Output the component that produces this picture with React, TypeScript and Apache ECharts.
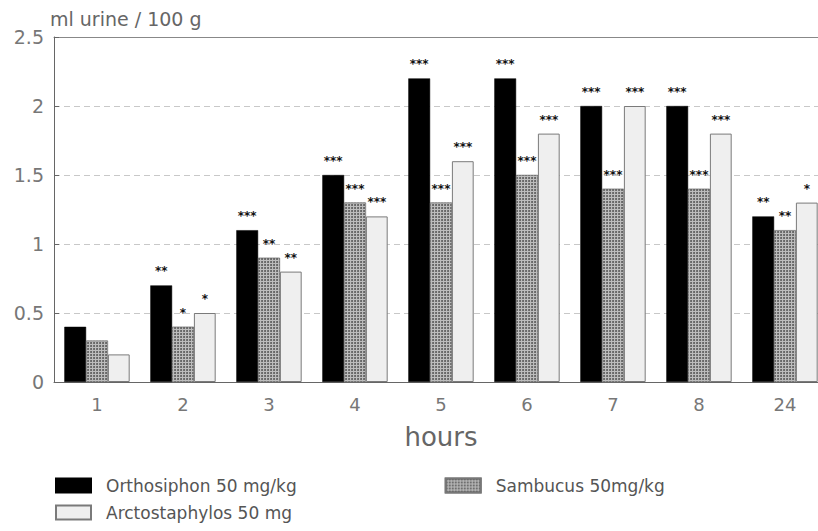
import React, { useEffect, useRef } from "react";
import * as echarts from "echarts";

const categories = ["1", "2", "3", "4", "5", "6", "7", "8", "24"];
const orthosiphon = [0.4, 0.7, 1.1, 1.5, 2.2, 2.2, 2.0, 2.0, 1.2];
const sambucus = [0.3, 0.4, 0.9, 1.3, 1.3, 1.5, 1.4, 1.4, 1.1];
const arctostaphylos = [0.2, 0.5, 0.8, 1.2, 1.6, 1.8, 2.0, 1.8, 1.3];
const orthoStars = ["", "**", "***", "***", "***", "***", "***", "***", "**"];
const sambStars = ["", "*", "**", "***", "***", "***", "***", "***", "**"];
const arctoStars = ["", "*", "**", "***", "***", "***", "***", "***", "*"];
const seriesNames = ["Orthosiphon 50 mg/kg", "Sambucus 50mg/kg", "Arctostaphylos 50 mg"];

const FONT = "DejaVu Sans";

function withStars(values: number[], stars: string[]) {
  return values.map((v, i) => ({ value: v, label: { formatter: stars[i] } }));
}

export default function App() {
  const ref = useRef<HTMLDivElement>(null);
  useEffect(() => {
    if (!ref.current) return;
    const chart = echarts.init(ref.current, undefined, { renderer: "svg" });
    const starLabel = {
      show: true,
      position: "top",
      distance: 8,
      fontSize: 12,
      fontWeight: "bold",
      color: "#111",
      textBorderWidth: 0,
      fontFamily: FONT,
    };
    const legendText = { fontFamily: FONT, fontSize: 17, color: "#555", padding: [0, 0, 0, 10] };
    chart.setOption({
      animation: false,
      backgroundColor: "#fff",
      textStyle: { fontFamily: FONT },
      grid: { left: 54, top: 37, width: 774, height: 345, containLabel: false },
      legend: [
        {
          data: [seriesNames[0], seriesNames[1]],
          left: 55,
          top: 477,
          padding: 0,
          itemWidth: 35,
          itemHeight: 14,
          itemGap: 148,
          icon: "rect",
          textStyle: legendText,
          selectedMode: false,
        },
        {
          data: [seriesNames[2]],
          left: 55,
          top: 504,
          padding: 0,
          itemWidth: 35,
          itemHeight: 14,
          icon: "rect",
          textStyle: legendText,
          selectedMode: false,
        },
      ],
      xAxis: [
        {
          type: "category",
          data: categories,
          position: "bottom",
          name: "hours",
          nameLocation: "middle",
          nameGap: 42,
          nameTextStyle: { fontFamily: FONT, fontSize: 26, color: "#666" },
          axisLine: { show: true, lineStyle: { color: "#666", width: 1 } },
          axisTick: { show: false },
          axisLabel: { fontFamily: FONT, fontSize: 18, color: "#777", margin: 13 },
          splitLine: { show: false },
        },
        {
          type: "category",
          data: categories,
          position: "top",
          axisLine: { show: true, lineStyle: { color: "#888", width: 1 } },
          axisTick: { show: false },
          axisLabel: { show: false },
        },
      ],
      yAxis: {
        type: "value",
        min: 0,
        max: 2.5,
        interval: 0.5,
        name: "ml urine / 100 g",
        nameLocation: "end",
        nameGap: 9,
        nameTextStyle: { fontFamily: FONT, fontSize: 19, color: "#666", align: "left", padding: [0, 0, 0, -4] },
        axisLine: { show: true, lineStyle: { color: "#666", width: 1 } },
        axisTick: { show: true, inside: true, length: 5, lineStyle: { color: "#666" } },
        axisLabel: { fontFamily: FONT, fontSize: 19, color: "#777", margin: 10 },
        splitLine: { show: true, lineStyle: { color: "#c8c8c8", type: [6, 4], width: 1 } },
      },
      series: [
        {
          name: seriesNames[0],
          type: "bar",
          data: withStars(orthosiphon, orthoStars),
          barGap: "0%",
          barCategoryGap: "24%",
          itemStyle: { color: "#000", borderColor: "#000", borderWidth: 0.5 },
          label: starLabel,
        },
        {
          name: seriesNames[1],
          type: "bar",
          data: withStars(sambucus, sambStars),
          barGap: "0%",
          barCategoryGap: "24%",
          itemStyle: {
            color: "#bdbdbd",
            borderColor: "#777",
            borderWidth: 0.5,
            decal: {
              symbol: "circle",
              symbolSize: 0.9,
              color: "rgba(60,60,60,0.85)",
              dashArrayX: [2, 1],
              dashArrayY: [2, 1],
              rotation: 0,
            },
          },
          label: starLabel,
        },
        {
          name: seriesNames[2],
          type: "bar",
          data: withStars(arctostaphylos, arctoStars),
          barGap: "0%",
          barCategoryGap: "24%",
          itemStyle: { color: "#efefef", borderColor: "#7a7a7a", borderWidth: 1 },
          label: starLabel,
        },
      ],
    });
    return () => chart.dispose();
  }, []);
  return (
    <div style={{ position: "absolute", left: 0, top: 0, width: 818, height: 531, overflow: "hidden" }}>
      <div ref={ref} style={{ width: 830, height: 531 }} />
    </div>
  );
}
